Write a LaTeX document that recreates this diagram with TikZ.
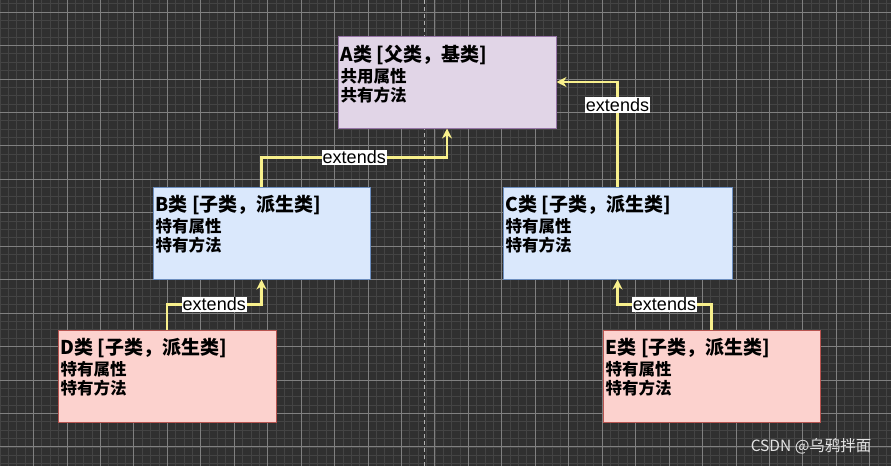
\documentclass[tikz,border=0pt]{standalone}
\usepackage{fontspec}
\setmainfont{Liberation Sans}
\newfontfamily\cjk{Noto Sans CJK SC}
\usetikzlibrary{calc,positioning,arrows.meta}

\definecolor{bgdark}{RGB}{48,48,48}
\definecolor{gridminor}{RGB}{68,68,68}
\definecolor{gridmajor}{RGB}{128,128,128}
\definecolor{purplefill}{HTML}{E1D5E7}
\definecolor{purpleline}{HTML}{9673A6}
\definecolor{bluefill}{HTML}{DAE8FC}
\definecolor{blueline}{HTML}{6C8EBF}
\definecolor{redfill}{HTML}{FCD2CE}
\definecolor{redline}{HTML}{B85450}
\definecolor{extyellow}{RGB}{248,240,140}

\tikzset{
    classbox/.style={draw, line width=1pt, inner sep=0pt, minimum height=92pt},
    classtext/.style={inner sep=0pt, align=left, text=black, font=\cjk\fontsize{16.5}{19}\selectfont},
    extarrow/.style={draw=extyellow, line width=2.6pt, -{Stealth[length=10pt, width=10pt]}},
    extlabel/.style={fill=white, text=black, inner sep=1pt, font=\fontsize{18}{20}\selectfont}
}

\begin{document}
\begin{tikzpicture}[x=1pt, y=-1pt]
    \useasboundingbox (0,0) rectangle (891,466);

    % canvas
    \fill[bgdark] (0,0) rectangle (891,466);
    \foreach \i in {0,...,106}
        \draw[gridminor, line width=0.7pt] ({\i*8.3625},0) -- ({\i*8.3625},466);
    \foreach \i in {0,...,55}
        \draw[gridminor, line width=0.7pt] (0,{3.64+\i*8.3625}) -- (891,{3.64+\i*8.3625});
    \foreach \i in {1,...,26}
        \draw[gridmajor, line width=0.8pt] ({\i*33.45},0) -- ({\i*33.45},466);
    \foreach \i in {0,...,13}
        \draw[gridmajor, line width=0.8pt] (0,{12+\i*33.45}) -- (891,{12+\i*33.45});
    \draw[gray!60, dash pattern=on 4pt off 3pt, line width=0.8pt] (424.5,0) -- (424.5,466);

    \node [classbox, fill=purplefill, draw=purpleline, minimum width=218pt] (A) at (447,82) {};
    \node [classtext, below right=9pt and 3pt of A.north west] (Atext) {{\bfseries\fontsize{19}{22}\selectfont A类 [父类，基类]}\\[2pt]\bfseries 共用属性\\\bfseries 共有方法};

    \node [classbox, fill=bluefill, draw=blueline, minimum width=217pt] (B) at (261.5,233) {};
    \node [classtext, below right=9pt and 3pt of B.north west] (Btext) {{\bfseries\fontsize{19}{22}\selectfont B类 [子类，派生类]}\\[2pt]\bfseries 特有属性\\\bfseries 特有方法};

    \node [classbox, fill=bluefill, draw=blueline, minimum width=229pt] (C) at (617.5,233) {};
    \node [classtext, below right=9pt and 3pt of C.north west] (Ctext) {{\bfseries\fontsize{19}{22}\selectfont C类 [子类，派生类]}\\[2pt]\bfseries 特有属性\\\bfseries 特有方法};

    \node [classbox, fill=redfill, draw=redline, minimum width=218pt] (D) at (167,376) {};
    \node [classtext, below right=9pt and 3pt of D.north west] (Dtext) {{\bfseries\fontsize{19}{22}\selectfont D类 [子类，派生类]}\\[2pt]\bfseries 特有属性\\\bfseries 特有方法};

    \node [classbox, fill=redfill, draw=redline, minimum width=217pt] (E) at (711.5,376) {};
    \node [classtext, below right=9pt and 3pt of E.north west] (Etext) {{\bfseries\fontsize{19}{22}\selectfont E类 [子类，派生类]}\\[2pt]\bfseries 特有属性\\\bfseries 特有方法};

    \draw[extarrow] (B.north) -- ($(B.north)!0.5!(B.north |- A.south)$) -| node[extlabel, pos=0.25] (extBA) {extends} (A.south);
    \draw[extarrow] (C.north) |- node[extlabel, pos=0.39] (extCA) {extends} (A.east);
    \draw[extarrow] (D.north) -- ($(D.north)!0.5!(D.north |- B.south)$) -| node[extlabel, pos=0.25] (extDB) {extends} (B.south);
    \draw[extarrow] (E.north) -- ($(E.north)!0.5!(E.north |- C.south)$) -| node[extlabel, pos=0.25] (extEC) {extends} (C.south);

    \node [anchor=base east, text=white!78!gray, font=\cjk\fontsize{15.5}{18}\selectfont] (mark) at (875,451) {CSDN @乌鸦拌面};
\end{tikzpicture}
\end{document}
